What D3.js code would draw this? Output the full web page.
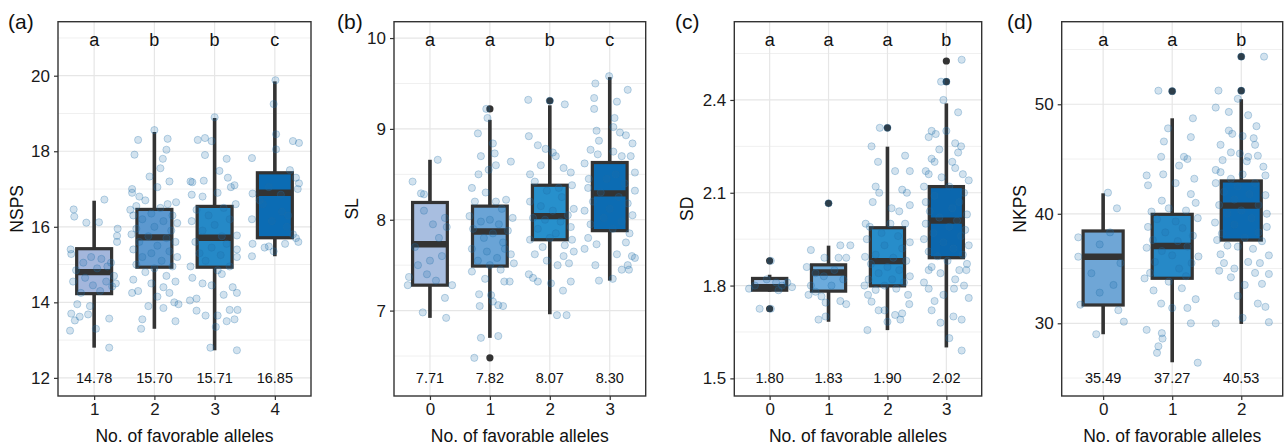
<!DOCTYPE html>
<html>
<head>
<meta charset="utf-8">
<script src="https://cdn.jsdelivr.net/npm/d3@7"></script>
<style>
  body { margin: 0; background: #fff; }
  svg text { font-family: "Liberation Sans", Arial, Helvetica, sans-serif; }
</style>
</head>
<body>
<svg id="chart" width="1285" height="446"></svg>
<script>
// ---- values ----
// stats rows: [lower whisker, q1, median, q3, upper whisker]
// points: [jitter offset (in category units), value]

// (a) NSPS
const nspsGroups = ["1", "2", "3", "4"]
const nspsStats = [
  [12.80, 14.23, 14.80, 15.42, 16.69],
  [13.30, 14.93, 15.72, 16.46, 18.51],
  [12.73, 14.93, 15.71, 16.54, 18.88],
  [15.22, 15.71, 16.90, 17.43, 19.85]
]
const nspsOutliers = [[], [], [], []]
const nspsMeans = ["14.78", "15.70", "15.71", "16.85"]
const nspsLetters = ["a", "b", "b", "c"]
const nspsPoints = [
  [[-.34,16.46],[-.33,16.27],[-.13,16.11],[.08,16.12],[.17,16.72],[.39,15.95],[.38,15.76],[.38,15.6],[-.39,15.4],[-.38,15.28],[-.05,15.2],[.12,15.15],[.28,15.05],[-.3,14.85],[-.15,14.65],[.2,14.55],[.33,14.7],[.36,14.5],[.3,14.42],[-.02,14.45],[.1,14.3],[-.22,14.25],[-.28,13.95],[-.07,13.9],[-.38,13.7],[-.24,13.62],[-.1,13.68],[-.32,13.52],[-.4,13.25],[.03,13.3],[.25,13.57],[.25,12.8],[.05,14.9],[-.18,15.05],[.22,14.95],[-.35,14.55]],
  [[-.33,17.91],[-.27,18.3],[0,18.56],[.22,18.33],[.2,18.04],[.14,17.8],[.1,17.55],[-.08,17.33],[.25,17.2],[-.37,17.0],[-.37,16.9],[.05,17.05],[-.25,16.8],[.36,16.65],[.22,16.6],[-.15,16.7],[-.4,16.45],[-.3,16.55],[.1,16.5],[-.35,16.3],[-.05,16.35],[.3,16.3],[.38,16.1],[-.2,16.2],[.15,16.15],[-.3,15.95],[0,16.0],[.28,15.9],[-.38,15.8],[-.1,15.75],[.2,15.7],[.35,15.6],[-.25,15.6],[.05,15.5],[-.35,15.4],[.25,15.35],[-.05,15.3],[.38,15.2],[-.2,15.2],[.12,15.1],[-.3,15.0],[.3,14.95],[0,14.9],[-.15,14.8],[.2,14.7],[-.35,14.6],[.35,14.55],[-.05,14.5],[.15,14.4],[-.27,14.3],[.25,14.25],[-.37,14.25],[.05,14.15],[.33,14.0],[.4,13.95],[-.1,13.9],[.15,13.85],[-.2,13.55],[.35,13.5],[-.22,13.3]],
  [[0,18.9],[-.28,18.3],[-.16,18.35],[-.05,18.27],[-.16,17.9],[.2,17.8],[.08,17.48],[-.4,17.2],[-.37,17.18],[-.18,17.22],[.22,17.3],[.27,17.05],[.33,17.1],[-.38,16.85],[-.2,16.8],[.05,16.9],[-.3,16.45],[.15,16.5],[.35,16.6],[-.1,16.3],[.25,16.2],[-.38,16.15],[0,16.05],[-.2,15.9],[.37,15.77],[.12,15.75],[-.32,15.6],[.2,15.55],[-.05,15.45],[.37,15.4],[-.25,15.3],[.1,15.25],[.37,15.2],[-.15,15.1],[-.4,14.95],[.25,14.95],[.05,14.85],[.12,14.75],[-.37,14.65],[-.2,14.5],[-.05,14.45],[.3,14.4],[.37,14.25],[-.3,14.1],[-.41,14.05],[.15,14.2],[-.3,13.78],[-.15,13.65],[.05,13.65],[.25,13.8],[.38,13.8],[.2,13.5],[.33,13.55],[.02,13.35],[-.07,12.8],[.37,12.73]],
  [[.01,19.88],[-.02,19.25],[.02,18.45],[.02,18.05],[.3,18.27],[.4,18.22],[-.38,17.82],[.25,17.5],[.35,17.3],[.4,17.15],[.38,17.0],[-.37,16.88],[-.1,17.05],[.1,16.85],[-.2,16.6],[.12,16.4],[-.38,16.2],[.22,16.3],[-.05,16.15],[.3,15.8],[.35,15.7],[.39,15.6],[-.37,15.55],[-.17,15.45],[.17,15.55],[-.1,15.48],[-.38,15.22],[-.02,15.35],[.2,16.0],[-.25,16.7]]
]

// (b) SL
const slGroups = ["0", "1", "2", "3"]
const slStats = [
  [6.92, 7.28, 7.73, 8.19, 8.66],
  [6.70, 7.49, 7.87, 8.15, 9.10],
  [6.96, 7.78, 8.04, 8.38, 9.26],
  [7.33, 7.88, 8.29, 8.63, 9.57]
]
const slOutliers = [[], [9.22, 6.48], [9.31], []]
const slMeans = ["7.71", "7.82", "8.07", "8.30"]
const slLetters = ["a", "a", "b", "c"]
const slPoints = [
  [[.13,8.66],[-.29,8.42],[-.15,8.29],[-.1,8.28],[.25,8.02],[.28,7.92],[-.1,8.1],[.05,7.95],[.15,7.8],[-.25,7.7],[.2,7.6],[0,7.55],[-.2,7.5],[-.35,7.37],[-.05,7.4],[.1,7.33],[-.37,7.28],[.37,7.28],[.25,7.14],[-.12,6.98],[.27,6.92]],
  [[-.06,9.22],[-.04,9.12],[-.2,8.95],[.05,8.84],[-.15,8.7],[.08,8.73],[.35,8.64],[.1,8.6],[-.02,8.55],[-.19,8.5],[-.3,8.35],[-.07,8.3],[-.25,8.2],[.1,8.2],[.27,8.22],[.2,8.12],[-.34,8.04],[.38,8.02],[0,8.0],[-.15,7.98],[.15,7.95],[-.28,7.9],[.3,7.88],[.05,7.85],[-.1,7.8],[.22,7.75],[-.3,7.68],[.25,7.68],[-.05,7.65],[.35,7.62],[.12,7.58],[-.2,7.55],[.4,7.52],[0,7.5],[-.3,7.43],[.18,7.45],[-.08,7.35],[.24,7.32],[.33,7.32],[-.18,7.18],[.02,7.17],[.05,7.1],[.14,7.06],[.22,7.05],[-.17,7.05],[-.15,6.7],[.14,6.72],[-.26,6.48]],
  [[-.36,9.32],[0,9.31],[.25,9.27],[-.35,8.92],[-.2,8.82],[-.07,8.78],[.05,8.74],[.1,8.7],[-.15,8.6],[.23,8.57],[.35,8.52],[-.33,8.5],[-.25,8.42],[.37,8.38],[.15,8.35],[-.05,8.32],[-.33,8.2],[.2,8.25],[.4,8.12],[-.15,8.15],[.05,8.1],[.3,8.05],[-.28,8.02],[-.08,8.0],[.18,7.98],[.35,7.92],[-.2,7.9],[.1,7.85],[-.33,7.78],[.37,7.78],[0,7.8],[.25,7.72],[-.12,7.7],[.4,7.65],[.23,7.6],[-.25,7.62],[.13,7.5],[.32,7.52],[-.05,7.55],[-.35,7.4],[-.28,7.36],[-.2,7.32],[.35,7.32],[.02,7.3],[.22,7.22],[.12,6.95],[.28,6.95]],
  [[-.01,9.58],[-.24,9.5],[.3,9.43],[-.26,9.34],[.12,9.3],[-.26,9.22],[.08,9.12],[.06,9.02],[-.22,8.98],[.17,8.96],[.27,8.93],[-.18,8.87],[.38,8.84],[-.32,8.77],[.06,8.75],[-.2,8.72],[.2,8.7],[.35,8.7],[-.42,8.62],[.42,8.52],[-.35,8.45],[.1,8.5],[-.05,8.45],[-.36,8.35],[.42,8.32],[.25,8.4],[-.15,8.3],[.15,8.25],[-.28,8.2],[.3,8.18],[0,8.12],[-.42,8.1],[.38,8.05],[-.1,8.02],[.2,7.98],[-.32,7.95],[.05,7.9],[-.36,7.8],[.33,7.85],[-.22,7.73],[-.42,7.68],[.27,7.75],[.37,7.6],[.42,7.58],[.12,7.62],[-.24,7.5],[.3,7.5],[.2,7.45],[.32,7.45],[-.18,7.33],[.05,7.35]]
]

// (c) SD
const sdGroups = ["0", "1", "2", "3"]
const sdStats = [
  [1.780, 1.785, 1.795, 1.823, 1.835],
  [1.683, 1.782, 1.842, 1.867, 1.929],
  [1.656, 1.799, 1.879, 1.987, 2.249],
  [1.600, 1.890, 2.010, 2.120, 2.389]
]
const sdOutliers = [[1.88, 1.725], [2.066], [2.31], [2.526, 2.459]]
const sdMeans = ["1.80", "1.83", "1.90", "2.02"]
const sdLetters = ["a", "a", "a", "b"]
const sdPoints = [
  [[.02,1.88],[-.17,1.725],[.02,1.725],[.11,1.81],[.21,1.8],[.38,1.795],[.15,1.785],[-.25,1.8],[-.05,1.82],[.3,1.81],[-.35,1.79]],
  [[0,2.066],[-.3,1.915],[.2,1.93],[.37,1.93],[-.37,1.86],[-.07,1.89],[.17,1.89],[.3,1.89],[-.22,1.84],[-.08,1.83],[.1,1.85],[.25,1.82],[-.3,1.8],[.05,1.8],[-.22,1.78],[-.34,1.77],[-.12,1.765],[.2,1.75],[.3,1.74],[-.05,1.745],[-.17,1.69],[-.05,1.7]],
  [[0,2.31],[-.13,2.31],[-.27,2.25],[-.16,2.2],[.3,2.22],[.13,2.17],[.38,2.17],[-.2,2.12],[-.14,2.1],[.25,2.11],[.33,2.1],[.38,2.06],[.07,2.05],[-.25,2.07],[.2,2.04],[-.37,2.0],[-.3,1.99],[.05,2.0],[.3,2.0],[-.1,1.97],[.18,1.96],[-.35,1.95],[.38,1.94],[-.05,1.93],[.25,1.92],[-.38,1.893],[-.2,1.9],[.1,1.89],[.32,1.88],[-.28,1.87],[0,1.86],[.2,1.85],[-.15,1.84],[.38,1.83],[-.32,1.82],[.08,1.82],[-.39,1.8],[.28,1.81],[-.05,1.8],[-.2,1.786],[.15,1.79],[-.33,1.77],[.35,1.77],[-.27,1.748],[.37,1.74],[-.05,1.72],[.13,1.705],[.25,1.71],[-.15,1.72],[0,1.683],[-.34,1.656],[.22,1.69]],
  [[.26,2.53],[-.09,2.459],[0,2.459],[-.05,2.4],[.2,2.36],[-.25,2.3],[-.18,2.29],[0,2.3],[-.3,2.28],[.15,2.26],[.25,2.25],[-.12,2.24],[.2,2.23],[-.25,2.21],[-.2,2.2],[.1,2.2],[-.35,2.17],[-.3,2.16],[.15,2.18],[.28,2.16],[-.08,2.15],[.38,2.14],[-.38,2.12],[.05,2.12],[.3,2.1],[-.2,2.09],[-.35,2.07],[.22,2.07],[.1,2.05],[-.28,2.04],[.35,2.03],[-.12,2.02],[.18,2.01],[-.35,2.0],[.05,1.99],[.32,1.98],[-.22,1.97],[.25,1.96],[-.38,1.95],[-.05,1.94],[.38,1.93],[.12,1.92],[-.3,1.91],[.28,1.9],[-.15,1.895],[.02,1.88],[.35,1.87],[-.25,1.86],[-.3,1.85],[.22,1.85],[.34,1.85],[-.1,1.84],[.15,1.82],[-.38,1.81],[.3,1.8],[-.3,1.79],[.13,1.79],[-.05,1.77],[.38,1.76],[-.2,1.75],[-.25,1.72],[.12,1.7],[.26,1.69],[-.1,1.68],[.05,1.63],[.26,1.59]]
]

// (d) NKPS
const nkpsGroups = ["0", "1", "2"]
const nkpsStats = [
  [29.00, 31.67, 36.08, 38.43, 41.87],
  [26.44, 34.11, 37.06, 39.95, 48.72],
  [29.94, 37.60, 40.74, 43.00, 50.46]
]
const nkpsOutliers = [[], [51.2], [54.35, 51.24]]
const nkpsMeans = ["35.49", "37.27", "40.53"]
const nkpsLetters = ["a", "a", "b"]
const nkpsPoints = [
  [[.07,41.93],[.2,40.5],[-.36,37.85],[.1,38.3],[-.36,36.08],[-.05,37.2],[.25,35.5],[-.17,34.57],[.15,33.5],[-.05,32.8],[-.33,31.7],[.3,30.15],[-.1,29.0],[.22,31.2]],
  [[-.2,51.24],[0,51.2],[.3,48.72],[-.06,47.8],[.27,47.0],[-.12,46.6],[-.16,45.2],[.17,45.2],[.22,45.0],[.1,44.4],[-.37,43.5],[-.13,43.6],[.32,43.2],[-.35,42.6],[.05,42.8],[.27,41.8],[-.15,41.2],[.34,41.0],[-.05,40.5],[-.3,40.2],[.2,40.3],[.37,39.6],[-.22,39.5],[.05,39.3],[-.35,38.8],[.15,38.7],[-.1,38.3],[.3,38.0],[-.28,37.6],[.08,37.5],[-.37,36.9],[.22,37.0],[-.15,36.6],[.38,36.1],[0,36.2],[-.25,35.6],[.28,35.5],[.1,35.0],[-.32,34.6],[-.4,34.1],[.2,34.3],[-.05,33.8],[-.27,33.0],[.14,33.2],[.34,32.2],[-.16,31.8],[0,31.4],[.22,31.4],[.27,30.0],[-.37,29.4],[-.15,29.1],[-.14,28.6],[-.2,27.9],[-.22,27.3],[.37,26.4]],
  [[.33,54.35],[0,54.35],[-.33,51.25],[0,51.24],[-.05,50.5],[-.37,49.7],[-.18,49.3],[.1,49.0],[.22,48.0],[-.18,47.6],[-.13,47.3],[.02,47.1],[.18,46.9],[.2,46.3],[-.3,46.3],[-.15,45.6],[-.02,45.5],[.1,45.2],[.24,45.3],[-.27,44.9],[.08,44.8],[.32,44.3],[-.37,44.0],[-.3,43.8],[-.15,43.2],[.02,43.6],[.35,43.5],[.2,42.8],[-.37,42.8],[-.05,42.5],[-.25,42.0],[.35,41.7],[.12,41.8],[-.1,41.3],[-.32,40.8],[.25,40.8],[.37,40.0],[0,40.3],[-.2,40.0],[.15,39.6],[-.38,39.2],[.37,38.8],[-.1,39.0],[.25,38.3],[-.28,38.2],[.05,37.8],[-.35,37.6],[.3,37.5],[-.2,37.1],[-.05,37.0],[.17,36.8],[.4,36.2],[-.3,36.3],[.1,35.6],[-.25,35.5],[.27,35.5],[-.1,35.0],[-.32,34.8],[.2,34.6],[.4,34.5],[-.15,34.2],[.05,33.5],[.3,33.6],[-.05,32.5],[.24,31.8],[.35,31.5],[-.37,30.0],[.4,30.1],[.02,30.5]]
]

// box fills, light to dark
const nspsFills = ["#a3b6dc", "#5c98cf", "#2589c7", "#0b6cb4"]
const slFills = ["#a8bee0", "#6aa4d6", "#2790cc", "#0c6cb3"]
const sdFills = ["#a6c4e7", "#6cabdc", "#278dca", "#0b67ae"]
const nkpsFills = ["#6fa6d6", "#2689c7", "#0c6bb2"]

const xTitle = "No. of favorable alleles"

// ---- drawing ----
const plotTop = 21.7
const plotBottom = 396
const ink = "#333333"

const svg = d3.select("#chart")

function drawPanel(opt, groups, stats, outliers, means, letters, points, fills) {
  const x = d3.scalePoint().domain(groups).range([opt.left, opt.right]).padding(0.6)
  const step = x.step()
  const y = d3.scaleLinear().domain(opt.domain).range([plotBottom, plotTop])
  const g = svg.append("g")

  // grid (minor first, then major)
  g.selectAll(".minor").data(opt.minor).enter().append("line")
    .attr("x1", opt.left).attr("x2", opt.right)
    .attr("y1", d => y(d)).attr("y2", d => y(d))
    .attr("stroke", "#f0f0f0").attr("stroke-width", 1)
  g.selectAll(".major").data(opt.ticks).enter().append("line")
    .attr("x1", opt.left).attr("x2", opt.right)
    .attr("y1", d => y(d)).attr("y2", d => y(d))
    .attr("stroke", "#e6e6e6").attr("stroke-width", 1.2)
  g.selectAll(".vgrid").data(groups).enter().append("line")
    .attr("x1", d => x(d)).attr("x2", d => x(d))
    .attr("y1", plotTop).attr("y2", plotBottom)
    .attr("stroke", "#e6e6e6").attr("stroke-width", 1.2)

  const boxW = step * 0.58
  const boxes = g.selectAll(".box").data(groups).enter().append("g")

  // whiskers
  boxes.append("line")
    .attr("x1", d => x(d)).attr("x2", d => x(d))
    .attr("y1", (d, i) => y(stats[i][0])).attr("y2", (d, i) => y(stats[i][1]))
    .attr("stroke", ink).attr("stroke-width", 3.6)
  boxes.append("line")
    .attr("x1", d => x(d)).attr("x2", d => x(d))
    .attr("y1", (d, i) => y(stats[i][3])).attr("y2", (d, i) => y(stats[i][4]))
    .attr("stroke", ink).attr("stroke-width", 3.6)
  // box
  boxes.append("rect")
    .attr("x", d => x(d) - boxW / 2)
    .attr("y", (d, i) => y(stats[i][3]))
    .attr("width", boxW)
    .attr("height", (d, i) => y(stats[i][1]) - y(stats[i][3]))
    .attr("fill", (d, i) => fills[i])
    .attr("stroke", ink).attr("stroke-width", 3.2)
  // median
  boxes.append("line")
    .attr("x1", d => x(d) - boxW / 2).attr("x2", d => x(d) + boxW / 2)
    .attr("y1", (d, i) => y(stats[i][2])).attr("y2", (d, i) => y(stats[i][2]))
    .attr("stroke", ink).attr("stroke-width", 6.4)
  // outliers
  boxes.each(function (d, i) {
    d3.select(this).selectAll("circle").data(outliers[i]).enter().append("circle")
      .attr("cx", x(d)).attr("cy", v => y(v)).attr("r", 3.6)
      .attr("fill", ink)
  })

  // jittered points on top
  groups.forEach((grp, i) => {
    g.append("g").selectAll("circle").data(points[i]).enter().append("circle")
      .attr("cx", p => x(grp) + p[0] * step)
      .attr("cy", p => y(p[1]))
      .attr("r", 3.6)
      .attr("fill", "#1f6fa8").attr("fill-opacity", 0.2)
      .attr("stroke", "#1f6fa8").attr("stroke-opacity", 0.28).attr("stroke-width", 1)
  })

  // letters and means
  g.selectAll(".letter").data(groups).enter().append("text")
    .attr("x", d => x(d)).attr("y", y(opt.letterY)).attr("dy", "0.35em")
    .attr("text-anchor", "middle").attr("font-size", 18).attr("fill", "#111")
    .text((d, i) => letters[i])
  g.selectAll(".mean").data(groups).enter().append("text")
    .attr("x", d => x(d)).attr("y", y(opt.meanY)).attr("dy", "0.35em")
    .attr("text-anchor", "middle").attr("font-size", 14.5).attr("fill", "#111")
    .text((d, i) => means[i])

  // border
  g.append("rect")
    .attr("x", opt.left).attr("y", plotTop)
    .attr("width", opt.right - opt.left).attr("height", plotBottom - plotTop)
    .attr("fill", "none").attr("stroke", ink).attr("stroke-width", 1.4)

  // axes
  const yAxis = g.append("g")
    .attr("transform", "translate(" + opt.left + ",0)")
    .call(d3.axisLeft(y).tickValues(opt.ticks).tickFormat(d3.format(opt.fmt)).tickSize(4).tickPadding(4))
  const xAxis = g.append("g")
    .attr("transform", "translate(0," + plotBottom + ")")
    .call(d3.axisBottom(x).tickSize(4).tickPadding(3))
  ;[yAxis, xAxis].forEach(a => {
    a.select(".domain").remove()
    a.selectAll(".tick line").attr("stroke", ink).attr("stroke-width", 1.2)
    a.selectAll(".tick text").attr("font-size", 17).attr("fill", "#1a1a1a")
      .style("font-family", '"Liberation Sans", Arial, sans-serif')
  })

  // titles
  g.append("text")
    .attr("x", (opt.left + opt.right) / 2).attr("y", 436).attr("dy", "0.35em")
    .attr("text-anchor", "middle").attr("font-size", 17.5).attr("fill", "#111")
    .text(xTitle)
  g.append("text")
    .attr("transform", "translate(" + opt.yTitleX + "," + ((plotTop + plotBottom) / 2) + ") rotate(-90)")
    .attr("dy", "0.35em")
    .attr("text-anchor", "middle").attr("font-size", 17.5).attr("fill", "#111")
    .text(opt.yTitle)
  g.append("text")
    .attr("x", opt.tagX).attr("y", 22).attr("dy", "0.35em")
    .attr("font-size", 21).attr("fill", "#111")
    .text(opt.tag)
}

drawPanel({left: 58, right: 311, domain: [11.52, 21.43], ticks: [12, 14, 16, 18, 20],
  minor: [13, 15, 17, 19, 21], fmt: "d", letterY: 20.95, meanY: 12,
  yTitle: "NSPS", yTitleX: 17, tag: "(a)", tagX: 8},
  nspsGroups, nspsStats, nspsOutliers, nspsMeans, nspsLetters, nspsPoints, nspsFills)

drawPanel({left: 394, right: 645.7, domain: [6.06, 10.18], ticks: [7, 8, 9, 10],
  minor: [6.5, 7.5, 8.5, 9.5], fmt: "d", letterY: 9.98, meanY: 6.26,
  yTitle: "SL", yTitleX: 352, tag: "(b)", tagX: 337},
  slGroups, slStats, slOutliers, slMeans, slLetters, slPoints, slFills)

drawPanel({left: 734.3, right: 981.7, domain: [1.443, 2.653], ticks: [1.5, 1.8, 2.1, 2.4],
  minor: [1.65, 1.95, 2.25, 2.55], fmt: ".1f", letterY: 2.594, meanY: 1.5,
  yTitle: "SD", yTitleX: 687, tag: "(c)", tagX: 675},
  sdGroups, sdStats, sdOutliers, sdMeans, sdLetters, sdPoints, sdFills)

drawPanel({left: 1061.7, right: 1282.7, domain: [23.36, 57.54], ticks: [30, 40, 50],
  minor: [25, 35, 45, 55], fmt: "d", letterY: 55.87, meanY: 25.0,
  yTitle: "NKPS", yTitleX: 1020, tag: "(d)", tagX: 1007},
  nkpsGroups, nkpsStats, nkpsOutliers, nkpsMeans, nkpsLetters, nkpsPoints, nkpsFills)
</script>
</body>
</html>
